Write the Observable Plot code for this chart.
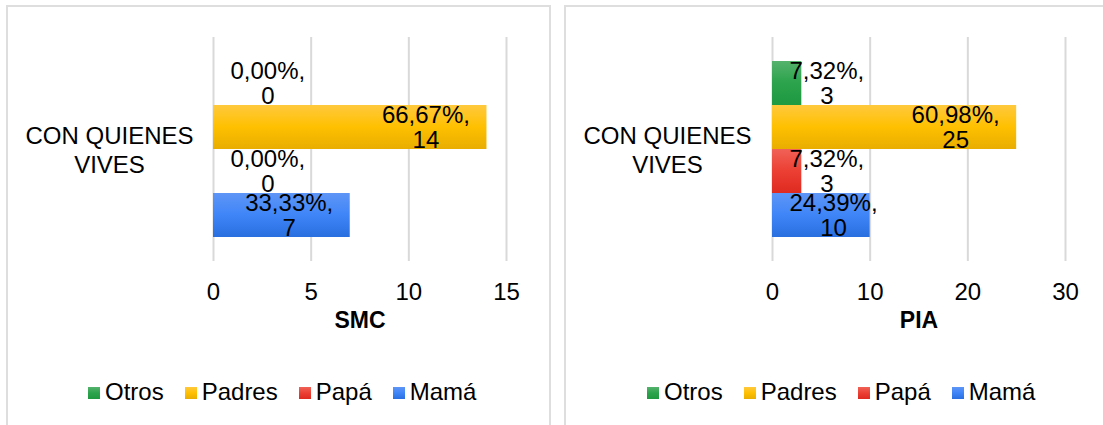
<!DOCTYPE html>
<html>
<head>
<meta charset="utf-8">
<script src="https://cdn.jsdelivr.net/npm/d3@7"></script>
<script src="https://cdn.jsdelivr.net/npm/@observablehq/plot@0.6"></script>
<style>
  html, body { margin: 0; padding: 0; background: #fff; }
  body { width: 1103px; height: 425px; position: relative; overflow: hidden; font-family: "Liberation Sans", Arial, sans-serif; }
  .panel { position: absolute; border: 2px solid #dedede; box-sizing: border-box; }
  .chart { position: absolute; top: 0; }
  .legend { position: absolute; top: 380px; height: 24px; font-size: 24px; color: #000; }
  .legend span.item { position: absolute; white-space: nowrap; line-height: 24px; }
  .legend span.sw { position: absolute; width: 12px; height: 12px; top: 7px; }
</style>
</head>
<body>
<div class="panel" style="left:6px; top:5px; width:545px; height:440px;"></div>
<div class="panel" style="left:564px; top:5px; width:560px; height:440px;"></div>
<div id="c1" class="chart" style="left:0px;"></div>
<div id="c2" class="chart" style="left:549px;"></div>
<div id="l1" class="legend" style="left:0px;"></div>
<div id="l2" class="legend" style="left:549px;"></div>
<script>
// ---- data ----
const category = "CON QUIENES VIVES";
const series = ["Otros", "Padres", "Papá", "Mamá"];
const smcValues = [0, 14, 0, 7];
const smcPercents = ["0,00%", "66,67%", "0,00%", "33,33%"];
const piaValues = [3, 25, 3, 10];
const piaPercents = ["7,32%", "60,98%", "7,32%", "24,39%"];
const smcTicks = [0, 5, 10, 15];
const piaTicks = [0, 10, 20, 30];
const panelTitles = ["SMC", "PIA"];

const gradients = {
  "Otros":  ["#55b26d", "#2ba34c", "#1f9a41"],
  "Padres": ["#ffc93d", "#ffc000", "#e8ad00"],
  "Papá":   ["#f06257", "#ec3f33", "#df2a20"],
  "Mamá":   ["#5e95f6", "#3f85f8", "#2a6fe0"]
};

const FONT = "Liberation Sans, Arial, sans-serif";
const FS = 24;

const canvas = document.createElement("canvas");
const ctx = canvas.getContext("2d");
ctx.font = `${FS}px ${FONT}`;
const textW = s => ctx.measureText(s).width;

function makeChart(prefix, values, percents, ticks, title, width, marginLeft, marginRight, labelDx) {
  const rows = series.map((s, i) => ({series: s, value: values[i], label: `${percents[i]},\n${values[i]}`, line1: `${percents[i]},`}));
  const height = 345, marginTop = 37, marginBottom = 84;
  const xMax = ticks[ticks.length - 1];
  const pxPerUnit = (width - marginLeft - marginRight) / xMax;
  const gid = s => `${prefix}-${series.indexOf(s)}`;

  const defs = () => {
    const svgNS = "http://www.w3.org/2000/svg";
    const d = document.createElementNS(svgNS, "defs");
    for (const s of series) {
      const g = document.createElementNS(svgNS, "linearGradient");
      g.setAttribute("id", gid(s));
      g.setAttribute("x1", "0"); g.setAttribute("y1", "0");
      g.setAttribute("x2", "0"); g.setAttribute("y2", "1");
      gradients[s].forEach((c, k) => {
        const st = document.createElementNS(svgNS, "stop");
        st.setAttribute("offset", String(k / 2));
        st.setAttribute("stop-color", c);
        g.appendChild(st);
      });
      d.appendChild(g);
    }
    return d;
  };

  const labelMarks = rows.map(r => {
    const w = textW(r.line1);
    const barPx = r.value * pxPerUnit;
    const fits = barPx - 18 - w >= 18;
    return Plot.text([r], {
      x: fits ? "value" : () => 0,
      y: "series",
      text: "label",
      textAnchor: "middle",
      lineHeight: 1.04,
      dx: fits ? -(17 + w / 2) : (17 + w / 2),
      fontSize: FS,
      fill: "#000"
    });
  });

  return Plot.plot({
    width, height, marginTop, marginBottom, marginLeft, marginRight,
    style: {background: "transparent", fontFamily: FONT, fontSize: FS + "px", color: "#000"},
    x: {domain: [0, xMax], ticks, label: null},
    y: {domain: series, paddingInner: 0, paddingOuter: 0.49, axis: null},
    color: {domain: series, range: series.map(s => `url(#${gid(s)})`)},
    marks: [
      defs,
      Plot.gridX(ticks, {stroke: "#d9d9d9", strokeOpacity: 1, strokeWidth: 2}),
      Plot.axisX(ticks, {tickSize: 0, tickPadding: 21, fontSize: FS, label: null, tickFormat: d => String(d)}),
      Plot.barX(rows, {x: "value", y: "series", fill: "series", insetTop: 0, insetBottom: 0}),
      ...labelMarks,
      Plot.text([category], {frameAnchor: "left", text: d => "CON QUIENES\nVIVES", textAnchor: "middle", dx: labelDx, lineHeight: 1.18, fontSize: FS, fill: "#000"}),
      Plot.text([title], {frameAnchor: "bottom", text: d => d, dy: 66, fontWeight: "bold", fontSize: FS - 1, fill: "#000", textAnchor: "middle"})
    ]
  });
}

document.getElementById("c1").appendChild(makeChart("g1", smcValues, smcPercents, smcTicks, panelTitles[0], 549, 213, 43, -104));
document.getElementById("c2").appendChild(makeChart("g2", piaValues, piaPercents, piaTicks, panelTitles[1], 554, 223, 38, -105));

function legend(el, startX) {
  let x = startX;
  series.forEach(s => {
    const sw = document.createElement("span");
    sw.className = "sw";
    sw.style.left = x + "px";
    const g = gradients[s];
    sw.style.background = `linear-gradient(${g[0]}, ${g[1]}, ${g[2]})`;
    el.appendChild(sw);
    const t = document.createElement("span");
    t.className = "item";
    t.style.left = (x + 17) + "px";
    t.textContent = s;
    el.appendChild(t);
    x += 17 + textW(s) + 21;
  });
}
legend(document.getElementById("l1"), 88);
legend(document.getElementById("l2"), 647 - 549);
</script>
</body>
</html>
